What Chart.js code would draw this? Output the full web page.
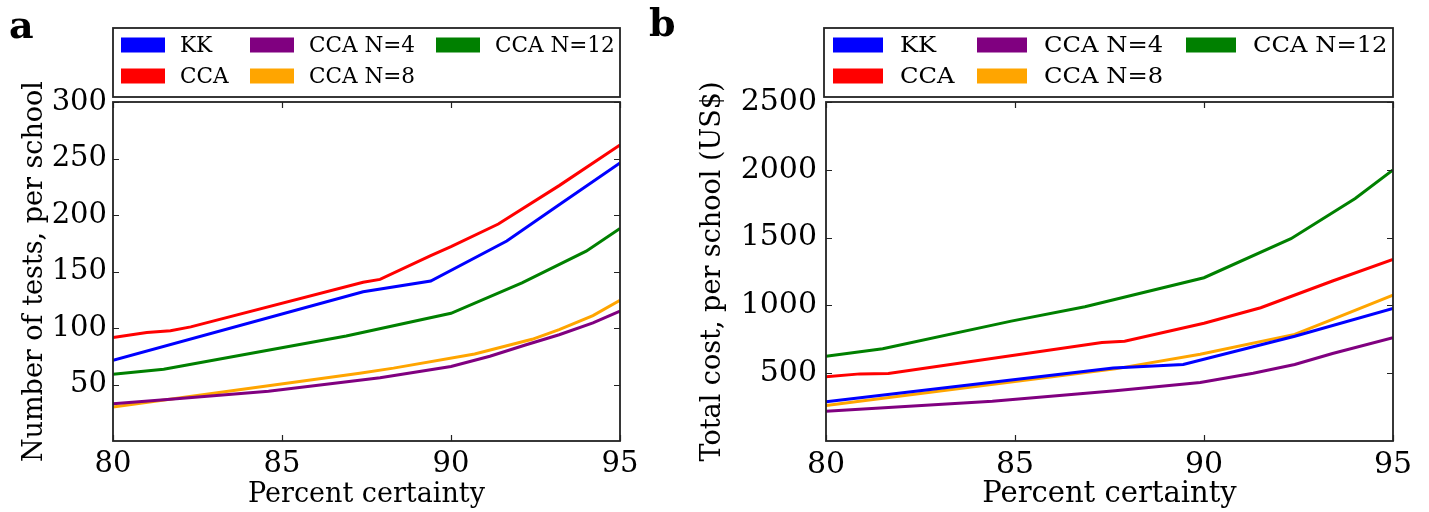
<!DOCTYPE html>
<html>
<head>
<meta charset="utf-8">
<script src="https://cdn.jsdelivr.net/npm/chart.js@4.4.1/dist/chart.umd.min.js"></script>
<style>
  html, body { margin: 0; padding: 0; background: #ffffff; }
  #wrap { position: relative; width: 1429px; height: 512px; overflow: hidden; background: #fff; }
  canvas { position: absolute; top: 0; }
  .panel-label { position: absolute; font-family: "DejaVu Serif", serif; font-weight: bold; font-size: 38px; line-height: 1; color: #000; }
</style>
</head>
<body>
<div id="wrap">
  <canvas id="chartA" width="650" height="512" style="left:0px"></canvas>
  <canvas id="chartB" width="769" height="512" style="left:660px"></canvas>
  <div class="panel-label" style="left:9px; top:6px;">a</div>
  <div class="panel-label" style="left:649px; top:4px;">b</div>
</div>
<script>
// ---------- data ----------
const seriesLabels = ['KK', 'CCA', 'CCA N=4', 'CCA N=8', 'CCA N=12'];
const seriesColors = ['#0000ff', '#ff0000', '#800080', '#ffa500', '#008000'];

const xTicks = [80, 85, 90, 95];
const yTicksTests = [50, 100, 150, 200, 250, 300];
const yTicksCost = [500, 1000, 1500, 2000, 2500];

// Panel a: number of tests per school
const kkTestsX   = [80, 87.4, 89.4, 91.65, 93.2, 95];
const kkTests    = [71.5, 132, 141.5, 177, 209, 246];
const ccaTestsX  = [80, 81, 81.7, 82.3, 87.4, 87.9, 89.4, 90, 91.4, 93.2, 95];
const ccaTests   = [91.5, 96, 97.5, 101, 140.5, 143, 164, 172, 192, 226, 262];
const n4TestsX   = [80, 81.7, 84.6, 87.9, 90, 91.15, 92.2, 93.2, 94.2, 95];
const n4Tests    = [33, 37, 44, 56, 66, 75, 85, 94, 104.5, 115];
const n8TestsX   = [80, 87.3, 88.3, 90.7, 92.4, 93.2, 94.2, 95];
const n8Tests    = [30, 60, 64.5, 77, 90, 98.5, 111, 124.5];
const n12TestsX  = [80, 81.5, 86.9, 90, 92.1, 94, 95];
const n12Tests   = [59, 63.5, 93, 113, 140, 168, 188];

// Panel b: total cost per school (US$)
const kkCostX    = [80, 87.6, 89.45, 92.4, 95];
const kkCost     = [289, 539, 564, 773, 978];
const ccaCostX   = [80, 80.9, 81.65, 87.3, 87.9, 90, 91.5, 93.4, 95];
const ccaCost    = [473, 495, 498, 726, 736, 868, 983, 1180, 1340];
const n4CostX    = [80, 84.4, 87.65, 89.9, 91.3, 92.4, 93.4, 95];
const n4Cost     = [219, 293, 370, 432, 500, 564, 645, 761];
const n8CostX    = [80, 87.65, 89.9, 92.4, 93.4, 95];
const n8Cost     = [261, 532, 640, 786, 897, 1076];
const n12CostX   = [80, 81.5, 84.9, 86.85, 90, 92.3, 94, 95];
const n12Cost    = [625, 680, 884, 990, 1204, 1492, 1788, 1999];

// ---------- helpers ----------
function pts(xs, ys) { return xs.map((x, i) => ({ x: x, y: ys[i] })); }
function makeDatasets(list) {
  return list.map((d, i) => ({
    label: seriesLabels[i],
    data: pts(d[0], d[1]),
    borderColor: seriesColors[i],
    backgroundColor: seriesColors[i],
    borderWidth: 3,
    pointRadius: 0,
    tension: 0,
    fill: false
  }));
}

const SERIF = '"DejaVu Serif", serif';

// frame + inward ticks on all four sides
const framePlugin = {
  id: 'frameTicks',
  afterDatasetsDraw(chart) {
    const { ctx, chartArea: a, scales } = chart;
    const len = 6;
    ctx.save();
    ctx.strokeStyle = '#222';
    ctx.lineWidth = 1.2;
    ctx.beginPath();
    scales.x.ticks.forEach(t => {
      const px = Math.round(scales.x.getPixelForValue(t.value)) + 0.5;
      ctx.moveTo(px, a.bottom); ctx.lineTo(px, a.bottom - len);
      ctx.moveTo(px, a.top); ctx.lineTo(px, a.top + len);
    });
    scales.y.ticks.forEach(t => {
      const py = Math.round(scales.y.getPixelForValue(t.value)) + 0.5;
      ctx.moveTo(a.left, py); ctx.lineTo(a.left + len, py);
      ctx.moveTo(a.right, py); ctx.lineTo(a.right - len, py);
    });
    ctx.stroke();
    ctx.lineWidth = 1.8;
    ctx.strokeStyle = '#222';
    ctx.strokeRect(a.left, a.top, a.right - a.left, a.bottom - a.top);
    ctx.restore();
  }
};

// boxed legend, 3 columns x 2 rows, column-major
const boxLegendPlugin = {
  id: 'boxLegend',
  afterDraw(chart, args, opts) {
    const { ctx, chartArea: a } = chart;
    const left = a.left + opts.dx, right = a.right, top = opts.top, bottom = opts.bottom;
    ctx.save();
    ctx.strokeStyle = '#222';
    ctx.lineWidth = 1.8;
    ctx.strokeRect(left, top, right - left, bottom - top);
    chart.data.datasets.forEach((ds, i) => {
      const col = Math.floor(i / 2), row = i % 2;
      const x0 = left + opts.cols[col];
      const yc = opts.rows[row];
      ctx.fillStyle = ds.borderColor;
      ctx.fillRect(x0, yc - opts.patchH / 2, opts.patchW, opts.patchH);
      ctx.fillStyle = '#000';
      ctx.font = opts.fontSize + 'px ' + SERIF;
      ctx.textBaseline = 'middle';
      ctx.textAlign = 'left';
      ctx.save();
      ctx.translate(x0 + opts.textGap, yc + 1);
      ctx.scale(opts.stretch, 1);
      ctx.fillText(ds.label, 0, 0);
      ctx.restore();
    });
    ctx.restore();
  }
};

function makeChart(id, cfg) {
  return new Chart(document.getElementById(id), {
    type: 'line',
    data: { datasets: makeDatasets(cfg.series) },
    options: {
      responsive: false,
      animation: false,
      devicePixelRatio: 1,
      layout: { padding: { top: 102, right: cfg.padRight, left: 0, bottom: 0 } },
      plugins: {
        legend: { display: false },
        tooltip: { enabled: false },
        boxLegend: cfg.legend
      },
      scales: {
        x: {
          type: 'linear', min: 80, max: 95,
          afterBuildTicks: s => { s.ticks = xTicks.map(v => ({ value: v })); },
          afterFit: s => { s.height = 71; },
          grid: { display: false, drawTicks: false },
          border: { display: false },
          ticks: { color: '#000', padding: 6, font: { family: SERIF, size: cfg.tickSize }, callback: v => String(v) },
          title: { display: true, text: 'Percent certainty', color: '#000', padding: { top: 0, bottom: cfg.xTitlePad }, font: { family: SERIF, size: cfg.xTitleSize } }
        },
        y: {
          type: 'linear', min: 0, max: cfg.yMax,
          afterBuildTicks: s => { s.ticks = cfg.yTicks.map(v => ({ value: v })); },
          afterFit: s => { s.width = cfg.yWidth; },
          grid: { display: false, drawTicks: false },
          border: { display: false },
          ticks: { color: '#000', padding: cfg.yTickPad, font: { family: SERIF, size: cfg.tickSize }, callback: v => String(v) },
          title: { display: true, text: cfg.yTitle, color: '#000', padding: { top: cfg.yTitlePad, bottom: 0 }, font: { family: SERIF, size: 27 } }
        }
      }
    },
    plugins: [framePlugin, boxLegendPlugin]
  });
}

makeChart('chartA', {
  series: [[kkTestsX, kkTests], [ccaTestsX, ccaTests], [n4TestsX, n4Tests], [n8TestsX, n8Tests], [n12TestsX, n12Tests]],
  padRight: 30, yWidth: 113, yMax: 300, yTicks: yTicksTests,
  tickSize: 29, xTitleSize: 27, xTitlePad: 1, yTickPad: 6, yTitlePad: 19,
  yTitle: 'Number of tests, per school',
  legend: { dx: 0, top: 28, bottom: 97, cols: [8, 137, 323], rows: [45, 76], patchW: 44, patchH: 15, textGap: 59, fontSize: 22, stretch: 0.98 }
});

makeChart('chartB', {
  series: [[kkCostX, kkCost], [ccaCostX, ccaCost], [n4CostX, n4Cost], [n8CostX, n8Cost], [n12CostX, n12Cost]],
  padRight: 36, yWidth: 166, yMax: 2500, yTicks: yTicksCost,
  tickSize: 30, xTitleSize: 29, xTitlePad: 0, yTickPad: 9, yTitlePad: 37,
  yTitle: 'Total cost, per school (US$)',
  legend: { dx: -2, top: 28, bottom: 97, cols: [9, 153, 362], rows: [45, 76], patchW: 50, patchH: 15, textGap: 67, fontSize: 22, stretch: 1.1 }
});
</script>
</body>
</html>
